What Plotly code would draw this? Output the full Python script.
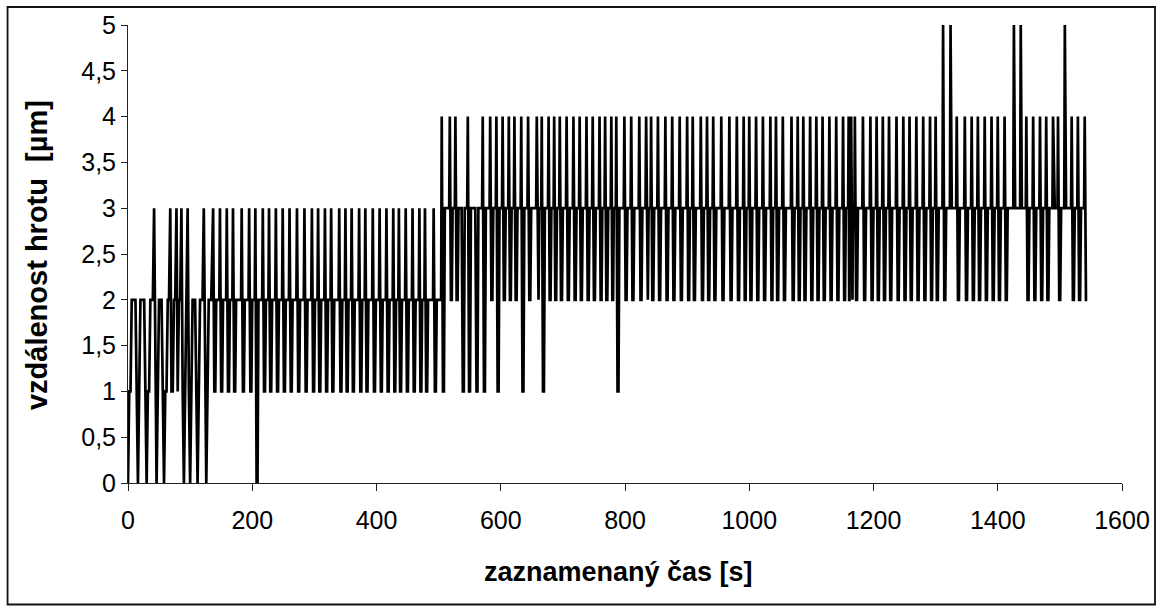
import plotly.graph_objects as go

# ---------------- data ----------------
# start of the record, sampled every 2 s (t = 0, 2, 4, ... 134 s)
early_step = 2
early_values = [0, 1, 1, 2, 2, 2, 2, 1, 0, 1,
                2, 2, 2, 2, 1, 0, 1, 1, 2, 2,
                2, 3, 1, 0, 1, 2, 2, 2, 1, 0,
                1, 1, 2, 2, 3, 1, 1, 2, 2, 3,
                1, 2, 2, 3, 1, 0, 1, 2, 3, 1,
                0, 1, 2, 2, 2, 1, 0, 1, 2, 2,
                2, 3, 1, 0, 1, 2, 2, 2]

# regular oscillation afterwards: time of each peak [s], peak level,
# trough level right after the peak, and level held until the next peak
spikes_A = [137, 148, 159, 169, 183, 195, 205, 217, 227, 238,
            249, 260, 272, 284, 296, 306, 317, 327, 340, 350,
            360, 372, 382, 394, 405, 416, 427, 436, 447, 458,
            469, 478, 492]
peaks_A = [3, 3, 3, 3, 3, 3, 3, 3, 3, 3,
           3, 3, 3, 3, 3, 3, 3, 3, 3, 3,
           3, 3, 3, 3, 3, 3, 3, 3, 3, 3,
           3, 3, 3]
dips_A = [1, 1, 1, 1, 1, 1, 0, 1, 1, 1,
          1, 1, 1, 1, 1, 1, 1, 1, 1, 1,
          1, 1, 1, 1, 1, 1, 1, 1, 1, 1,
          1, 1, 1]
rest_A = [2, 2, 2, 2, 2, 2, 2, 2, 2, 2,
          2, 2, 2, 2, 2, 2, 2, 2, 2, 2,
          2, 2, 2, 2, 2, 2, 2, 2, 2, 2,
          2, 2, 2]

spikes_B = [505, 518, 527, 537, 547, 559, 571, 583, 593, 603,
            613, 622, 633, 644, 658, 666, 677, 686, 695, 706,
            717, 727, 738, 748, 759, 768, 778, 786, 799, 810,
            823, 834, 842, 853, 865, 876, 888, 900, 909, 922,
            932, 942, 955, 968, 980, 991, 1000, 1011, 1022, 1034,
            1043, 1054, 1068, 1078, 1087, 1098, 1108, 1118, 1129, 1140,
            1151, 1160]
peaks_B = [4, 4, 4, 3, 4, 3, 4, 4, 4, 4,
           4, 4, 4, 4, 4, 4, 4, 4, 4, 4,
           4, 4, 4, 4, 4, 4, 4, 4, 4, 4,
           4, 4, 4, 4, 4, 4, 4, 4, 4, 4,
           4, 4, 4, 4, 4, 4, 4, 4, 4, 4,
           4, 4, 4, 4, 4, 4, 4, 4, 4, 4,
           4, 4]
dips_B = [1, 2, 2, 1, 1, 1, 1, 2, 1, 2,
          2, 2, 1, 2, 2, 1, 2, 2, 2, 2,
          2, 2, 2, 2, 2, 2, 2, 1, 2, 2,
          2, 2, 2, 2, 2, 2, 2, 2, 2, 2,
          2, 2, 2, 2, 2, 2, 2, 2, 2, 2,
          2, 2, 2, 2, 2, 2, 2, 2, 2, 2,
          2, 2]
rest_B = [3, 3, 3, 3, 3, 3, 3, 3, 3, 3,
          3, 3, 3, 3, 3, 3, 3, 3, 3, 3,
          3, 3, 3, 3, 3, 3, 3, 3, 3, 3,
          3, 3, 3, 3, 3, 3, 3, 3, 3, 3,
          3, 3, 3, 3, 3, 3, 3, 3, 3, 3,
          3, 3, 3, 3, 3, 3, 3, 3, 3, 3,
          3, 3]

spikes_C = [1164, 1170, 1183, 1195, 1205, 1215, 1225, 1237, 1248, 1258,
            1269, 1280, 1291, 1300, 1312, 1324, 1334, 1347, 1358, 1368,
            1379, 1390, 1400, 1411, 1426, 1437, 1446, 1457, 1468, 1478,
            1489, 1497, 1508, 1519, 1529, 1540]
peaks_C = [4, 4, 4, 4, 4, 4, 4, 4, 4, 4,
           4, 4, 4, 4, 5, 5, 4, 4, 4, 4,
           4, 4, 4, 4, 5, 5, 4, 4, 4, 4,
           4, 4, 5, 4, 4, 4]
dips_C = [2, 2, 2, 2, 2, 2, 2, 2, 2, 2,
          2, 2, 2, 2, 2, 3, 2, 2, 2, 2,
          2, 2, 2, 2, 3, 3, 2, 2, 2, 2,
          3, 2, 3, 2, 2, 2]
rest_C = [3, 3, 3, 3, 3, 3, 3, 3, 3, 3,
          3, 3, 3, 3, 3, 3, 3, 3, 3, 3,
          3, 3, 3, 3, 3, 3, 3, 3, 3, 3,
          3, 3, 3, 3, 3, 3]

end_time = 1544

x_ticks = [0, 200, 400, 600, 800, 1000, 1200, 1400, 1600]
y_ticks = [0, 0.5, 1, 1.5, 2, 2.5, 3, 3.5, 4, 4.5, 5]
x_title = "zaznamenaný čas [s]"
y_title = "vzdálenost hrotu \u00a0[µm]"

# ---------------- build the trace vertices ----------------
spike_time = spikes_A + spikes_B + spikes_C
spike_peak = peaks_A + peaks_B + peaks_C
spike_dip = dips_A + dips_B + dips_C
spike_rest = rest_A + rest_B + rest_C

xs = [i * early_step for i in range(len(early_values))]
ys = list(early_values)
n = len(spike_time)
for k in range(n):
    s = spike_time[k]
    p, d, r = spike_peak[k], spike_dip[k], spike_rest[k]
    if k < n - 1:
        s2 = spike_time[k + 1]
        g = s2 - s
        xs += [s, s + min(2, 0.2 * g), s + min(3.5, 0.35 * g),
               s + min(5, 0.5 * g), s2 - min(1, 0.1 * g)]
        ys += [p, d, d, r, r]
    else:
        xs += [s, s + 2, end_time]
        ys += [p, d, d]

# ---------------- figure ----------------
W, H = 1162, 612
L, R, T, B = 128, 1122.5, 25, 483   # plot area in pixels
pw, ph = R - L, B - T

fig = go.Figure()
fig.add_trace(go.Scatter(x=xs, y=ys, mode="lines",
                         line=dict(color="black", width=2.7),
                         hoverinfo="skip", showlegend=False))

font_fam = "Arial, 'Liberation Sans', sans-serif"

fig.update_layout(
    width=W, height=H,
    margin=dict(l=L, r=W - R, t=T, b=H - B, pad=0),
    paper_bgcolor="white", plot_bgcolor="white",
    separators=", ",
    showlegend=False,
    font=dict(family=font_fam, size=25, color="black"),
)
fig.update_xaxes(range=[0, 1600], tickvals=x_ticks, ticktext=[str(v) for v in x_ticks],
                 showgrid=False, zeroline=False, showline=True,
                 linecolor="#222", linewidth=1, ticks="outside", ticklen=7,
                 tickcolor="#222", tickwidth=1,
                 tickfont=dict(family=font_fam, size=25, color="black"),
                 ticklabelstandoff=8)
fig.update_yaxes(range=[0, 5], tickvals=y_ticks,
                 ticktext=[("%g" % v).replace(".", ",") for v in y_ticks],
                 showgrid=False, zeroline=False, showline=True,
                 linecolor="#222", linewidth=1, ticks="outside", ticklen=6,
                 tickcolor="#222", tickwidth=1,
                 tickfont=dict(family=font_fam, size=25, color="black"))

# outer frame around the whole chart
fx0, fx1, fy_top, fy_bot = 7.5, 1155.5, 7, 604.5
fig.add_shape(type="rect", xref="paper", yref="paper",
              x0=(fx0 - L) / pw, x1=(fx1 - L) / pw,
              y0=(B - fy_bot) / ph, y1=(B - fy_top) / ph,
              line=dict(color="#111", width=1.8), fillcolor="rgba(0,0,0,0)",
              layer="above")

# axis titles
fig.add_annotation(text="<b>" + x_title + "</b>", xref="paper", yref="paper",
                   x=(619 - L) / pw, y=(B - 572) / ph, xanchor="center", yanchor="middle",
                   showarrow=False, font=dict(family=font_fam, size=27, color="black"))
fig.add_annotation(text="<b>" + y_title + "</b>", xref="paper", yref="paper",
                   x=(37 - L) / pw, y=(B - 255) / ph, xanchor="center", yanchor="middle",
                   textangle=-90, showarrow=False,
                   font=dict(family=font_fam, size=29, color="black"))

fig.write_html("out.html")
